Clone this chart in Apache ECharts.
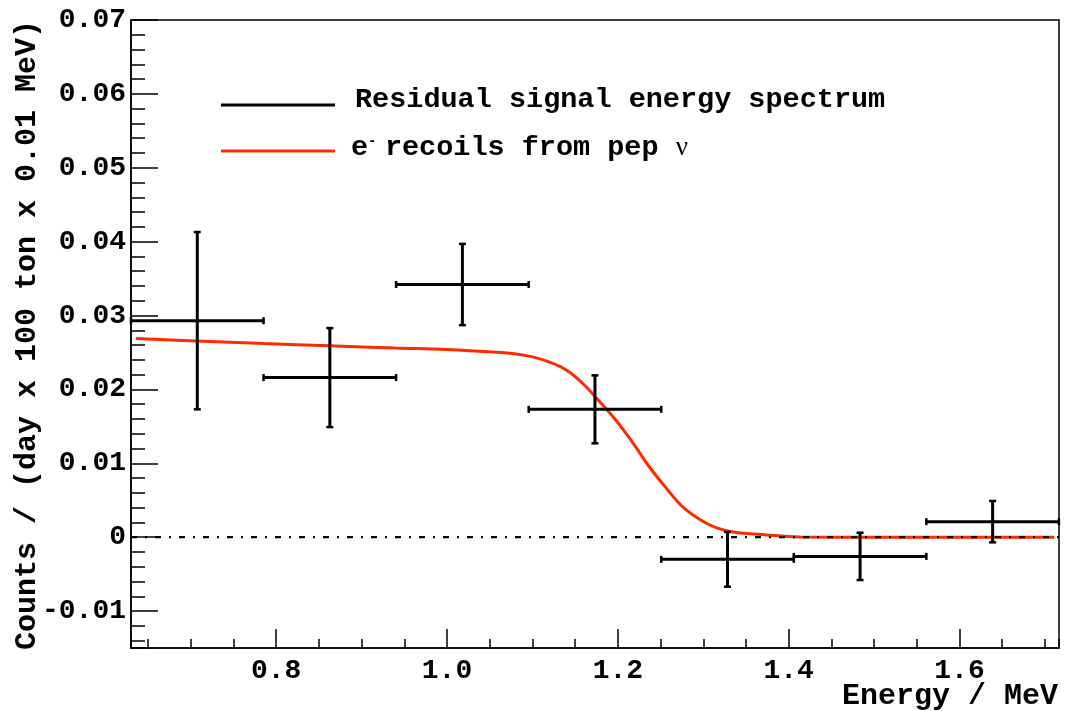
<!DOCTYPE html>
<html>
<head>
<meta charset="utf-8">
<script src="https://cdn.jsdelivr.net/npm/echarts@6/dist/echarts.min.js"></script>
<style>html,body{margin:0;padding:0;background:#fff}#chart{width:1070px;height:711px}</style>
</head>
<body>
<div id="chart"></div>
<script>
// ---- data ----
const xMin = 0.63, xMax = 1.7165;
const yMin = -0.015, yMax = 0.07;
const binLow  = [0.6300, 0.7852, 0.9404, 1.0956, 1.2508, 1.4060, 1.5612];
const binHigh = [0.7852, 0.9404, 1.0956, 1.2508, 1.4060, 1.5612, 1.7164];
const counts  = [0.0293, 0.0216, 0.0342, 0.0173, -0.0030, -0.0026, 0.0021];
const errors  = [0.0120, 0.0067, 0.0055, 0.0046, 0.0037, 0.0032, 0.0028];
const pepE = [0.636, 0.706, 0.786, 0.862, 0.940, 1.000, 1.062, 1.081, 1.100, 1.120, 1.140, 1.159, 1.179, 1.198, 1.218, 1.237, 1.257, 1.276, 1.296, 1.315, 1.335, 1.374, 1.413, 1.500, 1.600, 1.711];
const pepY = [0.0269, 0.02656, 0.0262, 0.0259, 0.0256, 0.0254, 0.0250, 0.0248, 0.0244, 0.0237, 0.0226, 0.0208, 0.0183, 0.0158, 0.0127, 0.0095, 0.0066, 0.0041, 0.0024, 0.0013, 0.0007, 0.0003, 0.00004, 0, 0, 0];
const xMajor = 0.2, xMinor = 0.05, yMajor = 0.01, yMinor = 0.002;
const seriesNames = ['Residual signal energy spectrum', 'e- recoils from pep \u03bd'];
const xTitle = 'Energy / MeV';
const yTitle = 'Counts / (day x 100 ton x 0.01 MeV)';

// ---- chart ----
const FONT = '"Liberation Mono", "Courier New", monospace';
const RED = '#ff2a00';
const errData = binLow.map((lo, i) => [lo, binHigh[i], counts[i], counts[i] - errors[i], counts[i] + errors[i]]);
const pepData = pepE.map((e, i) => [e, pepY[i]]);

const chart = echarts.init(document.getElementById('chart'), null, {renderer: 'canvas'});

function xAxisCfg(idx, step, len, showLabels) {
  return {
    type: 'value', gridIndex: 0, position: 'bottom', min: xMin, max: xMax,
    minInterval: step, maxInterval: step,
    axisLine: {show: idx === 0, onZero: false, lineStyle: {color: '#000', width: 1.5}},
    axisTick: {show: true, inside: true, length: len, lineStyle: {color: '#000', width: 1.5}},
    splitLine: {show: false},
    axisLabel: {
      show: showLabels, margin: 9, color: '#000', fontFamily: FONT, fontWeight: 'bold', fontSize: 28,
      showMinLabel: false, showMaxLabel: false,
      formatter: v => (Math.abs(Math.round(v / xMajor) * xMajor - v) < 1e-6 ? v.toFixed(1) : '')
    }
  };
}
function yAxisCfg(idx, step, len, showLabels) {
  return {
    type: 'value', gridIndex: 0, position: 'left', min: yMin, max: yMax,
    minInterval: step, maxInterval: step,
    axisLine: {show: idx === 0, onZero: false, lineStyle: {color: '#000', width: 1.5}},
    axisTick: {show: true, inside: true, length: len, lineStyle: {color: '#000', width: 1.5}},
    splitLine: {show: false},
    axisLabel: {
      show: showLabels, margin: 5, color: '#000', fontFamily: FONT, fontWeight: 'bold', fontSize: 28,
      showMinLabel: false,
      formatter: v => (Math.abs(v) < 1e-9 ? '0' : String(Math.round(v * 1000) / 1000))
    }
  };
}

const legendText = {
  color: '#000', fontFamily: FONT, fontWeight: 'bold', fontSize: 28.5, lineHeight: 30,
  rich: {
    sup: {fontFamily: FONT, fontWeight: 'bold', fontSize: 14, padding: [0, 0, 14, 0], color: '#000'},
    nu: {fontFamily: '"Liberation Serif", serif', fontWeight: 'normal', fontSize: 27, color: '#000'}
  }
};
function legendCfg(i, top, color, padLeft, padBottom) {
  return {
    orient: 'vertical', left: 221, top: top, padding: 0, itemWidth: 114, itemHeight: 3,
    icon: 'rect', selectedMode: false,
    data: [{name: seriesNames[i], itemStyle: {color: color}}],
    formatter: name => name === seriesNames[1] ? 'e{sup|- }recoils from pep {nu|\u03bd}' : name,
    textStyle: Object.assign({}, legendText, {padding: [0, 0, padBottom, padLeft]})
  };
}

chart.setOption({
  animation: false,
  backgroundColor: '#fff',
  grid: {left: 131, top: 20, width: 928, height: 628, show: true, borderColor: '#000', borderWidth: 1.5, containLabel: false},
  xAxis: [xAxisCfg(0, xMajor, 19, true), xAxisCfg(1, xMinor, 9, false)],
  yAxis: [yAxisCfg(0, yMajor, 27, true), yAxisCfg(1, yMinor, 14, false)],
  legend: [legendCfg(0, 85, '#000', 15, 10), legendCfg(1, 133, RED, 11, 6)],
  graphic: [
    {type: 'text', x: 1058, y: 696, style: {text: xTitle, fill: '#000', font: 'bold 30px ' + FONT, textAlign: 'right', textVerticalAlign: 'middle'}},
    {type: 'text', x: 27, y: 20, rotation: Math.PI / 2, style: {text: yTitle, fill: '#000', font: 'bold 30px ' + FONT, textAlign: 'right', textVerticalAlign: 'middle'}}
  ],
  series: [
    {
      name: seriesNames[1], type: 'line', xAxisIndex: 0, yAxisIndex: 0, data: pepData,
      showSymbol: false, symbol: 'none', smooth: 0.4, z: 2,
      lineStyle: {color: RED, width: 3}, itemStyle: {color: RED}
    },
    {
      name: 'zero', type: 'line', xAxisIndex: 0, yAxisIndex: 0, data: [[xMin, 0], [xMax, 0]],
      showSymbol: false, symbol: 'none', z: 3, silent: true,
      lineStyle: {color: '#000', width: 2.2, type: [6, 8, 2, 8]}
    },
    {
      name: seriesNames[0], type: 'custom', xAxisIndex: 0, yAxisIndex: 0, data: errData, z: 4,
      itemStyle: {color: '#000'},
      encode: {x: [0, 1], y: [2, 3, 4]},
      renderItem: function (params, api) {
        const lo = api.value(0), hi = api.value(1), y = api.value(2), yl = api.value(3), yh = api.value(4);
        const xc = (lo + hi) / 2;
        const pL = api.coord([lo, y]), pR = api.coord([hi, y]);
        const pT = api.coord([xc, yh]), pB = api.coord([xc, yl]);
        const st = {stroke: '#000', lineWidth: 3};
        const cs = {stroke: '#000', lineWidth: 2.5};
        const c = 3.5;
        return {
          type: 'group',
          children: [
            {type: 'line', shape: {x1: pL[0], y1: pL[1], x2: pR[0], y2: pR[1]}, style: st},
            {type: 'line', shape: {x1: pT[0], y1: pT[1], x2: pB[0], y2: pB[1]}, style: st},
            {type: 'line', shape: {x1: pL[0], y1: pL[1] - c, x2: pL[0], y2: pL[1] + c}, style: cs},
            {type: 'line', shape: {x1: pR[0], y1: pR[1] - c, x2: pR[0], y2: pR[1] + c}, style: cs},
            {type: 'line', shape: {x1: pT[0] - c, y1: pT[1], x2: pT[0] + c, y2: pT[1]}, style: cs},
            {type: 'line', shape: {x1: pB[0] - c, y1: pB[1], x2: pB[0] + c, y2: pB[1]}, style: cs}
          ]
        };
      }
    }
  ]
});
</script>
</body>
</html>
